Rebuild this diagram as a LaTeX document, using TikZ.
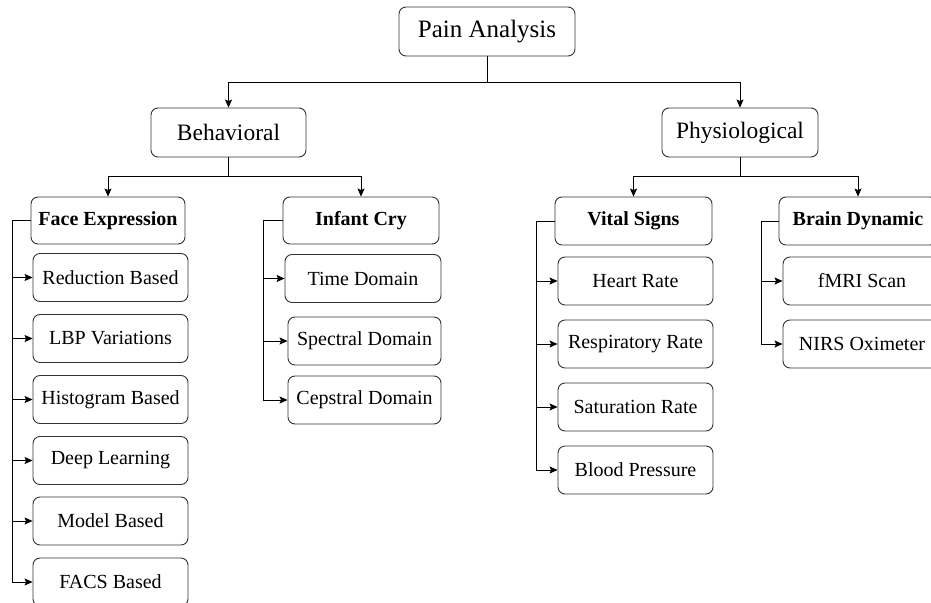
\documentclass[tikz,border=0pt]{standalone}
\usepackage{fontspec}
\setmainfont{Liberation Serif}
\usetikzlibrary{arrows.meta}
\tikzset{
  box/.style={draw=black!80, line width=0.9pt, rounded corners=7pt, inner sep=0pt,
    minimum height=48pt, align=center, fill=white},
  rootbox/.style={box, minimum width=176pt, minimum height=49pt, font=\fontsize{25}{30}\selectfont},
  lvlone/.style={box, minimum width=155pt, minimum height=49pt, font=\fontsize{23.5}{28}\selectfont},
  lvltwo/.style={box, minimum width=156pt, minimum height=48pt, font=\fontsize{20}{24}\selectfont\bfseries},
  leaf/.style={box, minimum width=155pt, minimum height=48pt, font=\fontsize{20}{24}\selectfont},
  conn/.style={draw=black, line width=0.8pt},
  arr/.style={conn, -{Stealth[length=8pt,width=7pt,inset=1.5pt]}}
}
\begin{document}
\begin{tikzpicture}[x=1pt,y=-1pt]
\useasboundingbox (0,0) rectangle (931,602);
% top levels
\node[rootbox] (root) at (487,31.5) {Pain Analysis};
\node[lvlone] (beh) at (228.5,132.5) {Behavioral};
\node[lvlone, minimum width=156pt] (phy) at (740,132.5) {Physiological};
% level two
\node[lvltwo, minimum width=154pt, minimum height=47pt] (fe) at (108,220.5) {Face Expression};
\node[lvltwo, minimum height=47pt] (ic) at (361,220.5) {Infant Cry};
\node[lvltwo, minimum width=157pt] (vs) at (633.5,221) {Vital Signs};
\node[lvltwo, minimum width=158pt] (bd) at (858,221) {Brain Dynamic};
% leaves: face expression
\node[leaf] (rb) at (110.5,277.5) {Reduction Based};
\node[leaf] (lbp) at (110.5,338.5) {LBP Variations};
\node[leaf] (hb) at (110.5,399.5) {Histogram Based};
\node[leaf] (dl) at (110.5,460.5) {Deep Learning};
\node[leaf] (mb) at (110.5,521) {Model Based};
\node[leaf] (facs) at (110.5,582) {FACS Based};
% leaves: infant cry
\node[leaf, minimum width=156pt] (td) at (363,278.5) {Time Domain};
\node[leaf, minimum width=153pt] (sd) at (364.5,341) {Spectral Domain};
\node[leaf, minimum width=153pt] (cd) at (364.5,400) {Cepstral Domain};
% leaves: vital signs
\node[leaf] (hr) at (635.5,281) {Heart Rate};
\node[leaf] (rr) at (635.5,344) {Respiratory Rate};
\node[leaf] (sr) at (635.5,407) {Saturation Rate};
\node[leaf] (bp) at (635.5,470) {Blood Pressure};
% leaves: brain dynamic
\node[leaf, minimum width=158pt] (fmri) at (862,281) {fMRI Scan};
\node[leaf, minimum width=158pt] (nirs) at (862,344) {NIRS Oximeter};
% junction coordinates
\coordinate (j0) at (487,82.5);
\coordinate (j1) at (228.5,176);
\coordinate (j2) at (740,176);
\coordinate (lfe) at (12,220.5);
\coordinate (lic) at (263,220.5);
\coordinate (lvs) at (536,221);
\coordinate (lbd) at (761,221);
% connectors
\draw[conn] (root.south) -- (j0);
\draw[arr] (j0) -| (beh.north);
\draw[arr] (j0) -| (phy.north);
\draw[conn] (beh.south) -- (j1);
\draw[arr] (j1) -| (fe.north);
\draw[arr] (j1) -| (ic.north);
\draw[conn] (phy.south) -- (j2);
\draw[arr] (j2) -| (vs.north);
\draw[arr] (j2) -| (bd.north);
\foreach \c in {rb,lbp,hb,dl,mb,facs}{
  \draw[arr] (fe.west) -- (lfe) |- (\c.west);
}
\foreach \c in {td,sd,cd}{
  \draw[arr] (ic.west) -- (lic) |- (\c.west);
}
\foreach \c in {hr,rr,sr,bp}{
  \draw[arr] (vs.west) -- (lvs) |- (\c.west);
}
\foreach \c in {fmri,nirs}{
  \draw[arr] (bd.west) -- (lbd) |- (\c.west);
}
\end{tikzpicture}
\end{document}
